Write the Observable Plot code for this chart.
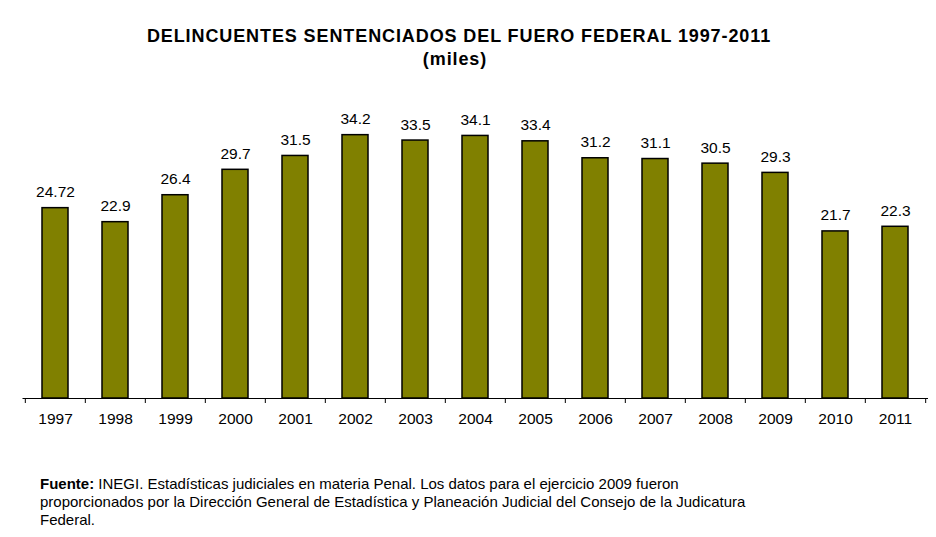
<!DOCTYPE html>
<html>
<head>
<meta charset="utf-8">
<script src="https://cdn.jsdelivr.net/npm/d3@7"></script>
<script src="https://cdn.jsdelivr.net/npm/@observablehq/plot@0.6"></script>
<style>
  body { margin: 0; background: #fff; font-family: "Liberation Sans", Arial, sans-serif; color: #000; }
  #wrap { position: relative; width: 936px; height: 537px; }
  .ttl { position: absolute; left: 0; width: 936px; text-align: center; font-weight: bold; font-size: 18px; line-height: 23px; }
  #title { top: 25px; left: -9px; letter-spacing: 0.9px; }
  #subtitle { top: 48px; left: -13px; letter-spacing: 0.9px; }
  #chart { position: absolute; top: 80px; left: 0; }
  #caption { position: absolute; top: 475px; left: 40px; font-size: 15px; line-height: 18px; }
</style>
</head>
<body>
<div id="wrap">
  <div id="title" class="ttl">DELINCUENTES SENTENCIADOS DEL FUERO FEDERAL 1997-2011</div>
  <div id="subtitle" class="ttl">(miles)</div>
  <div id="chart"></div>
  <div id="caption"><b>Fuente:</b> INEGI. Estadísticas judiciales en materia Penal. Los datos para el ejercicio 2009 fueron<br>proporcionados por la Dirección General de Estadística y Planeación Judicial del Consejo de la Judicatura<br>Federal.</div>
</div>
<script>
const years = ["1997","1998","1999","2000","2001","2002","2003","2004","2005","2006","2007","2008","2009","2010","2011"];
const values = [24.72, 22.9, 26.4, 29.7, 31.5, 34.2, 33.5, 34.1, 33.4, 31.2, 31.1, 30.5, 29.3, 21.7, 22.3];
const labels = ["24.72","22.9","26.4","29.7","31.5","34.2","33.5","34.1","33.4","31.2","31.1","30.5","29.3","21.7","22.3"];

const data = years.map((y, i) => ({year: y, value: values[i], label: labels[i]}));

const W = 936, H = 360, ML = 22.5, MR = 8, MT = 10, MB = 42;
const half = (W - ML - MR) / years.length / 2;

const chart = Plot.plot({
  width: W,
  height: H,
  marginLeft: ML,
  marginRight: MR,
  marginTop: MT,
  marginBottom: MB,
  style: {fontFamily: "'Liberation Sans', Arial, sans-serif", color: "#000", background: "#fff"},
  x: {domain: years, paddingInner: 0.57, paddingOuter: 0.285, align: 0.5, label: null},
  y: {domain: [0, 40], axis: null},
  marks: [
    Plot.barY(data, {x: "year", y: "value", fill: "#808000", stroke: "#000", strokeWidth: 1.5}),
    Plot.text(data, {x: "year", y: "value", text: "label", dy: -16, fontSize: 15.5, fill: "#000"}),
    Plot.ruleY([0], {stroke: "#000", strokeWidth: 1}),
    Plot.axisX({tickSize: 0, tickPadding: 14, fontSize: 15.5, fill: "#000", label: null}),
    Plot.axisX({ticks: years, tickSize: 5, text: null, dx: -half, stroke: "#000", label: null}),
    Plot.axisX({ticks: [years[years.length - 1]], tickSize: 5, text: null, dx: half, stroke: "#000", label: null})
  ]
});
document.getElementById("chart").appendChild(chart);
</script>
</body>
</html>
